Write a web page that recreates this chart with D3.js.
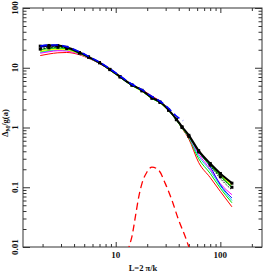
<!DOCTYPE html>
<meta charset="utf-8">
<html>
<head>
    <script src="https://d3js.org/d3.v7.min.js"></script>
</head>
<style>
    body { margin: 0; background: white; }
    text { font-family: "Liberation Serif", serif; fill: #111; }
</style>
<body>
<div id="chartdiv"></div>
<script>

// scale L = 2 pi / k, shared by all simulation curves
const scales = [1.9, 2.3, 2.8, 3.4, 4.5, 5.5, 7, 8.8, 11, 14.3, 17.8, 22.2, 26.5, 32, 38, 43, 50, 62, 80, 100, 129];

// Delta_M / g(a) for each output
const blackTop  = [23, 23.6, 23.5, 22, 18, 15.2, 12.2, 9.4, 7.1, 5.15, 4.2, 3.15, 2.68, 1.97, 1.38, 1.03, 0.74, 0.41, 0.25, 0.17, 0.117];
const blackMid  = [21, 22, 22.5, 21.5, 17.6, 15, 12.1, 9.3, 7.05, 5.1, 4.15, 3.1, 2.64, 1.95, 1.36, 1.0, 0.70, 0.40, 0.23, 0.14, 0.09];
const blackLow  = [20.5, 21.5, 22, 21, 17.5, 15, 12.1, 9.3, 7.0, 5.1, 4.1, 3.08, 2.62, 1.94, 1.35, 1.0, 0.71, 0.39, 0.235, 0.15, 0.10];
const blueRun   = [22, 23, 23.2, 21.8, 17.8, 15.1, 12.2, 9.4, 7.1, 5.2, 4.25, 3.25, 2.72, 2.0, 1.37, 1.01, 0.72, 0.39, 0.22, 0.11, 0.066];
const greenRun  = [20, 21, 21.5, 20.8, 17.5, 14.9, 12.0, 9.3, 7.0, 5.1, 4.15, 3.1, 2.65, 1.95, 1.36, 1.0, 0.71, 0.40, 0.235, 0.155, 0.10];
const yellowRun = [19, 20, 20.5, 20, 17.2, 14.8, 12.0, 9.2, 7.0, 5.1, 4.1, 3.1, 2.63, 1.94, 1.35, 1.0, 0.72, 0.41, 0.245, 0.162, 0.11];
const cyanRun   = [18, 19, 19.8, 19.5, 17, 14.6, 11.9, 9.2, 6.95, 5.05, 4.1, 3.05, 2.6, 1.93, 1.34, 0.98, 0.68, 0.33, 0.19, 0.105, 0.06];
const magRun    = [17.5, 18.5, 19.3, 19, 16.8, 14.5, 11.8, 9.2, 7.0, 5.1, 4.2, 3.15, 2.7, 1.96, 1.36, 0.99, 0.69, 0.36, 0.20, 0.115, 0.075];
const green2Run = [18.5, 19.5, 20.2, 19.8, 17, 14.6, 11.9, 9.1, 6.9, 5.0, 4.05, 3.05, 2.58, 1.92, 1.33, 0.98, 0.67, 0.30, 0.17, 0.096, 0.055];
const redRun    = [16, 17, 17.8, 18, 16.5, 14.4, 11.8, 9.2, 7.0, 5.15, 4.3, 3.35, 2.75, 1.95, 1.35, 0.97, 0.64, 0.26, 0.145, 0.085, 0.047];

// blue dashed (linear) curve
const linScales = [1.9, 2.3, 2.8, 3.4, 4.5, 5.5, 7, 8.8, 11, 14.3, 17.8, 22.2, 26.5, 32, 37, 40, 44];
const linValues = [23, 24, 24, 22.5, 18.5, 15.5, 12.4, 9.6, 7.3, 5.3, 4.3, 3.3, 2.75, 2.1, 1.62, 1.45, 1.3];

// red dashed bump
const bumpScales = [13, 13.4, 14.3, 15.4, 16.6, 17.8, 19.9, 22.2, 25.8, 29.8, 34.5, 40, 46.3, 50, 54];
const bumpValues = [0.008, 0.01, 0.015, 0.032, 0.069, 0.115, 0.18, 0.218, 0.192, 0.115, 0.060, 0.028, 0.0147, 0.01, 0.0068];

const xTickLabels = [10, 100];
const yTickLabels = ["0.01", "0.1", "1", "10", "100"];

// chart box
const W = 264, H = 274;
const boxL = 23, boxR = 262, boxT = 8, boxB = 247;

var xScale = d3.scaleLog().domain([1.3, 250]).range([boxL, boxR]);
var yScale = d3.scaleLog().domain([0.01, 100]).range([boxB, boxT]);

const svg = d3.select("#chartdiv").append("svg")
    .attr("width", W).attr("height", H);

svg.append("defs").append("clipPath").attr("id", "box")
    .append("rect").attr("x", boxL).attr("y", boxT)
    .attr("width", boxR - boxL).attr("height", boxB - boxT);

// tick values: majors and minors for each log axis
function logTicks(lo, hi) {
    var out = [];
    for (var e = Math.floor(Math.log10(lo)); e <= Math.ceil(Math.log10(hi)); e++) {
        for (var m = 1; m < 10; m++) {
            var v = m * Math.pow(10, e);
            if (v >= lo && v <= hi) out.push(v);
        }
    }
    return out;
}
const isMajor = v => Math.abs(Math.log10(v) - Math.round(Math.log10(v))) < 1e-9;

var xt = logTicks(1.3, 250), yt = logTicks(0.01, 100);

// inward ticks on all four sides, drawn with d3 axes
function drawAxis(axisFn, scale, ticks, tx, ty, vertical, major, minor) {
    var g = svg.append("g").attr("transform", "translate(" + tx + "," + ty + ")");
    g.call(axisFn(scale).tickValues(ticks).tickSizeInner(-minor).tickSizeOuter(0).tickFormat(""));
    g.selectAll(".tick line").filter(d => isMajor(d))
        .attr(vertical ? "x2" : "y2", function() {
            var cur = +d3.select(this).attr(vertical ? "x2" : "y2");
            return cur / minor * major;
        });
    g.select(".domain").remove();
    g.selectAll("line").attr("stroke", "#333").attr("stroke-width", 1);
    return g;
}
drawAxis(d3.axisBottom, xScale, xt, 0, boxB, false, 5, 3);
drawAxis(d3.axisTop, xScale, xt, 0, boxT, false, 5, 3);
drawAxis(d3.axisLeft, yScale, yt, boxL, 0, true, 7, 3.5);
drawAxis(d3.axisRight, yScale, yt, boxR, 0, true, 7, 3.5);

svg.append("rect").attr("x", boxL).attr("y", boxT)
    .attr("width", boxR - boxL).attr("height", boxB - boxT)
    .attr("fill", "none").attr("stroke", "#333").attr("stroke-width", 1);

// tick labels
svg.selectAll(".xl").data(xTickLabels).enter().append("text")
    .attr("x", d => xScale(d)).attr("y", 258)
    .attr("text-anchor", "middle").attr("font-size", 9).attr("font-weight", "bold")
    .text(d => d);

svg.selectAll(".yl").data(yTickLabels).enter().append("text")
    .attr("transform", d => "translate(18," + yScale(+d) + ") rotate(-90)")
    .attr("text-anchor", "middle").attr("font-size", 9).attr("font-weight", "bold")
    .text(d => d);

// axis titles
svg.append("text").attr("x", 143).attr("y", 271)
    .attr("text-anchor", "middle").attr("font-size", 8.5).attr("font-weight", "bold")
    .text("L=2 \u03c0/k");

var yt1 = svg.append("text")
    .attr("transform", "translate(8,123) rotate(-90)")
    .attr("text-anchor", "middle").attr("font-size", 8.5).attr("font-weight", "bold");
yt1.append("tspan").text("\u0394");
yt1.append("tspan").attr("font-size", 6).attr("dy", 2).text("M");
yt1.append("tspan").attr("dy", -2).text("/g(a)");

// curves
var plot = svg.append("g").attr("clip-path", "url(#box)");
var line = d3.line().x(d => xScale(d[0])).y(d => yScale(d[1])).curve(d3.curveMonotoneX);

const runs = [
    { v: redRun, c: "#ff0000", w: 1, dash: null },
    { v: green2Run, c: "#00e000", w: 1, dash: null },
    { v: cyanRun, c: "#00e0e0", w: 1, dash: null },
    { v: magRun, c: "#ff00ff", w: 1, dash: null },
    { v: blueRun, c: "#0000ff", w: 1, dash: null },
    { v: blackLow, c: "#000", w: 1, dash: "2,1.5" },
    { v: blackMid, c: "#000", w: 1, dash: "1.5,1.5" },
    { v: yellowRun, c: "#ffff00", w: 1.2, dash: null },
    { v: greenRun, c: "#00c000", w: 1.2, dash: null },
    { v: blackTop, c: "#000", w: 2, dash: null }
];

runs.forEach(function(r) {
    var pts = scales.map((s, i) => [s, r.v[i]]);
    plot.append("path").datum(pts)
        .attr("fill", "none").attr("stroke", r.c).attr("stroke-width", r.w)
        .attr("stroke-dasharray", r.dash)
        .attr("d", line);
});

// square markers on the top black run and the dotted black run
[blackTop, blackLow].forEach(function(vals) {
    plot.selectAll(null).data(scales.map((s, i) => [s, vals[i]])).enter().append("rect")
        .attr("x", d => xScale(d[0]) - 1.5).attr("y", d => yScale(d[1]) - 1.5)
        .attr("width", 3).attr("height", 3).attr("fill", "#000");
});

// dashed curves
plot.append("path").datum(linScales.map((s, i) => [s, linValues[i]]))
    .attr("fill", "none").attr("stroke", "#0000ff").attr("stroke-width", 1.6)
    .attr("stroke-dasharray", "7,4").attr("d", line);

plot.append("path").datum(bumpScales.map((s, i) => [s, bumpValues[i]]))
    .attr("fill", "none").attr("stroke", "#ff0000").attr("stroke-width", 1.3)
    .attr("stroke-dasharray", "7,4").attr("d", line);

</script>
</body>
</html>
